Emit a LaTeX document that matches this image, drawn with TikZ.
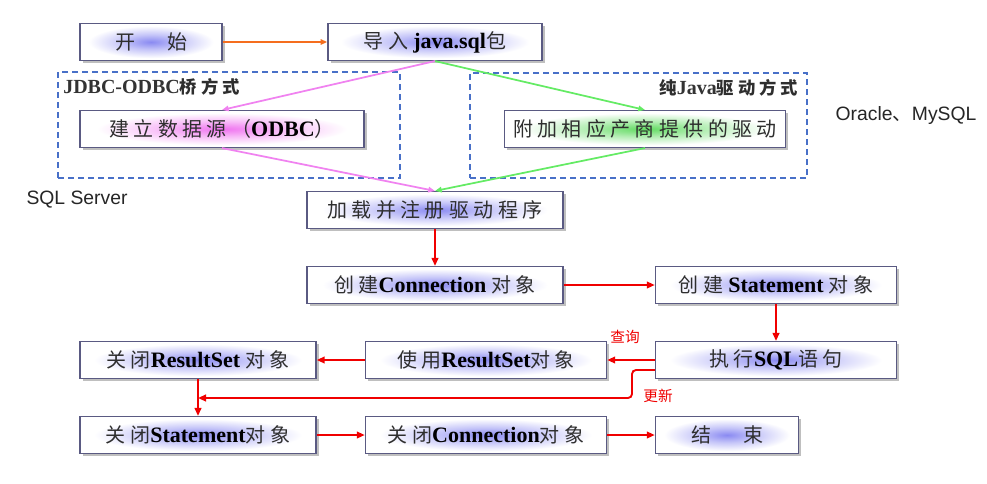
\documentclass[tikz,border=0pt]{standalone}
\usepackage{fontspec}
\setmainfont{Liberation Serif}
\newfontfamily\zhfont[LetterSpace=22]{Noto Sans CJK SC}
\newfontfamily\zhplain{Noto Sans CJK SC}
\newfontfamily\arialfont{Liberation Sans}
\newcommand\zh[1]{{\color{black!82}\zhfont #1}}
\newcommand\en[1]{{\fontsize{16.5}{18}\selectfont\bfseries #1}}
\usepackage{tikz}
\usetikzlibrary{arrows.meta, shadows, positioning, calc}
\definecolor{BoxLine}{RGB}{90,90,130}
\definecolor{GlowBlue}{RGB}{125,125,240}
\definecolor{GlowPink}{RGB}{238,100,238}
\definecolor{GlowGreen}{RGB}{80,215,80}
\definecolor{DashBlue}{RGB}{72,112,200}
\definecolor{LinkPink}{RGB}{240,130,240}
\definecolor{LinkGreen}{RGB}{100,235,100}
\definecolor{LinkOrange}{RGB}{245,110,30}
\definecolor{LinkRed}{RGB}{240,0,0}
\colorlet{glowcol}{GlowBlue}
\pgfdeclareradialshading[glowcol]{glow}{\pgfpointorigin}{%
  color(0bp)=(glowcol!90!white); color(10bp)=(glowcol!45!white);
  color(22bp)=(white); color(50bp)=(white)}

\begin{document}
\begin{tikzpicture}[x=0.75pt,y=-0.75pt,
        stepbox/.style={rectangle,draw=BoxLine,line width=1.1pt,
                   /utils/exec={\colorlet{glowcol}{#1}},shading=glow,
                   drop shadow={shadow xshift=2pt,shadow yshift=-2pt,
                                fill=black!50,opacity=0.5},
                   minimum height=27.5pt,inner sep=0pt,
                   font=\fontsize{15}{18}\selectfont},
        stepbox/.default=GlowBlue,
        wd/.style={minimum width=#1*0.75pt},
        group/.style={rectangle,draw=DashBlue,line width=1.3pt,
                   dash pattern=on 4.5pt off 3pt,inner sep=0pt},
        grouplabel/.style={font=\fontsize{13}{15}\selectfont\bfseries,
                   text=black!80,inner sep=0pt},
        note/.style={font=\arialfont\fontsize{14.5}{16}\selectfont,
                   text=black!85,inner sep=0pt},
        tag/.style={font=\zhplain\fontsize{11}{13}\selectfont,
                   text=LinkRed,inner sep=0pt},
        arr/.style={-{Triangle[length=6pt,width=5pt]},line width=1.4pt,LinkRed},
        thin arr/.style={-{Triangle[length=5pt,width=4pt]},line width=1.3pt,#1}
      ]
        \fill[white] (0,0) rectangle (987,483);
        \useasboundingbox (0,0) rectangle (987,483);
        \node[group,minimum width=342*0.75pt,minimum height=106*0.75pt]
          (jdbcodbc) at (229,125) {};
        \node[group,minimum width=337*0.75pt,minimum height=105*0.75pt]
          (purejava) at (638.5,125.5) {};
        \node[grouplabel,anchor=west] (jdbclabel) at (63,87)
          {{\fontsize{15}{16}\selectfont JDBC-ODBC}\zh{桥方式}};
        \node[grouplabel,anchor=east] (javalabel) at (798,88)
          {\zh{纯}{\fontsize{15}{16}\selectfont Java}\zh{驱动方式}};
        \node[stepbox,wd=142] (start) at (151,42) {\zh{开}\hspace{1.6em}\zh{始}};
        \node[stepbox,wd=214] (import) at (435,42) {\zh{导入} \en{java.sql}\zh{包}};
        \node[stepbox=GlowPink,wd=284] (odbc) at (222,129)
          {\zh{建立数据源（}\en{ODBC}\zh{）}};
        \node[stepbox=GlowGreen,wd=281] (vendor) at (645,129)
          {\zh{附加相应产商提供的驱动}};
        \node[stepbox,wd=256] (load) at (435,210) {\zh{加载并注册驱动程序}};
        \node[stepbox,wd=256] (conn) at (435,285) {\zh{创建}\en{Connection} \zh{对象}};
        \node[stepbox,wd=241] (stmt) at (776,285) {\zh{创建} \en{Statement} \zh{对象}};
        \node[stepbox,wd=241] (exec) at (776,360) {\zh{执行}\en{SQL}\zh{语句}};
        \node[stepbox,wd=241] (use) at (486,360) {\zh{使用}\en{ResultSet}\zh{对象}};
        \node[stepbox,wd=236] (closers) at (198,360) {\zh{关闭}\en{ResultSet} \zh{对象}};
        \node[stepbox,wd=236] (closestmt) at (198,435) {\zh{关闭}\en{Statement}\zh{对象}};
        \node[stepbox,wd=241] (closeconn) at (486,435) {\zh{关闭}\en{Connection}\zh{对象}};
        \node[stepbox,wd=143] (finish) at (727,435) {\zh{结}\hspace{1.6em}\zh{束}};
        \node[note] (oracle) at (906,115) {Oracle{\zhplain 、}MySQL};
        \node[note] (sqlserver) at (77,200) {SQL Server};
        \node[tag] (query) at (625,337) {查询};
        \node[tag] (update) at (658,396) {更新};
        \coordinate (bend) at (632,398);
        \coordinate (merge) at (198,398);
        \draw[thin arr=LinkOrange] (start) -- (import);
        \draw[thin arr=LinkPink] (import.south) -- (odbc.north);
        \draw[thin arr=LinkPink] (odbc.south) -- (load.north);
        \draw[thin arr=LinkGreen] (import.south) -- (vendor.north);
        \draw[thin arr=LinkGreen] (vendor.south) -- (load.north);
        \draw[arr] (load) -- (conn);
        \draw[arr] (conn) -- (stmt);
        \draw[arr] (stmt) -- (exec);
        \draw[arr] (exec) -- (use);
        \draw[arr] (use) -- (closers);
        \draw[arr,rounded corners=3pt] ([yshift=-7.5pt]exec.west) -| (bend) -- (merge);
        \draw[arr] (closers) -- (closestmt);
        \draw[arr] (closestmt) -- (closeconn);
        \draw[arr] (closeconn) -- (finish);
      \end{tikzpicture}
\end{document}
